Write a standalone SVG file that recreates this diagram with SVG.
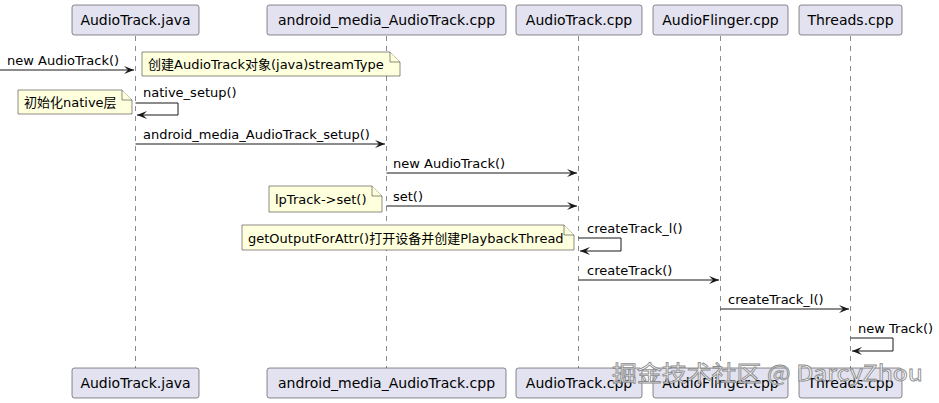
<svg xmlns="http://www.w3.org/2000/svg" width="939" height="403" viewBox="0 0 939 403">
<style>
text{font-family:"DejaVu Sans","Noto Sans CJK SC",sans-serif;fill:#000}
.pbox{fill:#E2E2F0;stroke:#181818;stroke-width:0.5}
.plabel{font-size:14px}
.life{stroke:#181818;stroke-width:0.5;stroke-dasharray:5,5;fill:none}
.msg{stroke:#181818;stroke-width:1;fill:none}
.head{fill:#181818}
.mlabel{font-size:13px}
.note{fill:#FEFFDD;stroke:#181818;stroke-width:0.5}
.nlabel{font-size:13px}
.wm{font-size:22px;fill:#ffffff;fill-opacity:0.75;stroke:#8a8a8a;stroke-width:0.8;font-family:"Noto Sans CJK SC","DejaVu Sans",sans-serif}
</style>
<defs>
<marker id="ah" markerWidth="12" markerHeight="10" refX="10" refY="4" orient="auto" markerUnits="userSpaceOnUse">
<polygon class="head" points="0,0 10,4 0,8 4,4"/>
</marker>
</defs>
<g id="lifelines">
<line class="life" x1="135.5" y1="36" x2="135.5" y2="368"/>
<line class="life" x1="386.5" y1="36" x2="386.5" y2="368"/>
<line class="life" x1="578.5" y1="36" x2="578.5" y2="368"/>
<line class="life" x1="720.5" y1="36" x2="720.5" y2="368"/>
<line class="life" x1="850.5" y1="36" x2="850.5" y2="368"/>
</g>
<g id="p-audiotrack-java">
<rect class="pbox" x="72" y="5" width="127" height="30" rx="2.5"/>
<text class="plabel" x="135.5" y="25" text-anchor="middle">AudioTrack.java</text>
<rect class="pbox" x="72" y="368" width="127" height="30" rx="2.5"/>
<text class="plabel" x="135.5" y="388" text-anchor="middle">AudioTrack.java</text>
</g>
<g id="p-android-media">
<rect class="pbox" x="267" y="5" width="239" height="30" rx="2.5"/>
<text class="plabel" x="386.5" y="25" text-anchor="middle">android_media_AudioTrack.cpp</text>
<rect class="pbox" x="267" y="368" width="239" height="30" rx="2.5"/>
<text class="plabel" x="386.5" y="388" text-anchor="middle">android_media_AudioTrack.cpp</text>
</g>
<g id="p-audiotrack-cpp">
<rect class="pbox" x="516" y="5" width="126" height="30" rx="2.5"/>
<text class="plabel" x="579" y="25" text-anchor="middle">AudioTrack.cpp</text>
<rect class="pbox" x="516" y="368" width="126" height="30" rx="2.5"/>
<text class="plabel" x="579" y="388" text-anchor="middle">AudioTrack.cpp</text>
</g>
<g id="p-audioflinger">
<rect class="pbox" x="653" y="5" width="135" height="30" rx="2.5"/>
<text class="plabel" x="720.5" y="25" text-anchor="middle">AudioFlinger.cpp</text>
<rect class="pbox" x="653" y="368" width="135" height="30" rx="2.5"/>
<text class="plabel" x="720.5" y="388" text-anchor="middle">AudioFlinger.cpp</text>
</g>
<g id="p-threads">
<rect class="pbox" x="799" y="5" width="103" height="30" rx="2.5"/>
<text class="plabel" x="850.5" y="25" text-anchor="middle">Threads.cpp</text>
<rect class="pbox" x="799" y="368" width="103" height="30" rx="2.5"/>
<text class="plabel" x="850.5" y="388" text-anchor="middle">Threads.cpp</text>
</g>
<g id="connectors">
<line class="msg" x1="0" y1="70" x2="134" y2="70" marker-end="url(#ah)"/>
<text class="mlabel" x="7" y="65">new AudioTrack()</text>
<polyline class="msg" points="135.5,103 178,103 178,115 137,115" marker-end="url(#ah)"/>
<text class="mlabel" x="143" y="97">native_setup()</text>
<line class="msg" x1="135.5" y1="144" x2="385" y2="144" marker-end="url(#ah)"/>
<text class="mlabel" x="143" y="139">android_media_AudioTrack_setup()</text>
<line class="msg" x1="386.5" y1="173" x2="577" y2="173" marker-end="url(#ah)"/>
<text class="mlabel" x="393" y="168">new AudioTrack()</text>
<line class="msg" x1="386.5" y1="206" x2="577" y2="206" marker-end="url(#ah)"/>
<text class="mlabel" x="393" y="201">set()</text>
<polyline class="msg" points="578.5,238 621,238 621,251 580,251" marker-end="url(#ah)"/>
<text class="mlabel" x="587" y="233">createTrack_l()</text>
<line class="msg" x1="578.5" y1="280" x2="719" y2="280" marker-end="url(#ah)"/>
<text class="mlabel" x="587" y="275">createTrack()</text>
<line class="msg" x1="720.5" y1="309" x2="849" y2="309" marker-end="url(#ah)"/>
<text class="mlabel" x="728" y="304">createTrack_l()</text>
<polyline class="msg" points="850.5,338 893,338 893,351 852,351" marker-end="url(#ah)"/>
<text class="mlabel" x="858" y="333">new Track()</text>
</g>
<g id="note-create">
<path class="note" d="M142,52 L390,52 L400,62 L400,76 L142,76 Z"/>
<path class="note" d="M390,52 L390,62 L400,62"/>
<text class="nlabel" x="148" y="69">创建AudioTrack对象(java)streamType</text>
</g>
<g id="note-native">
<path class="note" d="M18,90 L122,90 L132,100 L132,114 L18,114 Z"/>
<path class="note" d="M122,90 L122,100 L132,100"/>
<text class="nlabel" x="24" y="107">初始化native层</text>
</g>
<g id="note-set">
<path class="note" d="M269,186 L372,186 L382,196 L382,212 L269,212 Z"/>
<path class="note" d="M372,186 L372,196 L382,196"/>
<text class="nlabel" x="275" y="204">lpTrack-&gt;set()</text>
</g>
<g id="note-output">
<path class="note" d="M242,225 L564,225 L574,235 L574,250 L242,250 Z"/>
<path class="note" d="M564,225 L564,235 L574,235"/>
<text class="nlabel" x="248" y="243">getOutputForAttr()打开设备并创建PlaybackThread</text>
</g>
<g id="watermark">
<text class="wm" x="612" y="381" textLength="311" lengthAdjust="spacingAndGlyphs">掘金技术社区 @ DarcyZhou</text>
</g>
</svg>
